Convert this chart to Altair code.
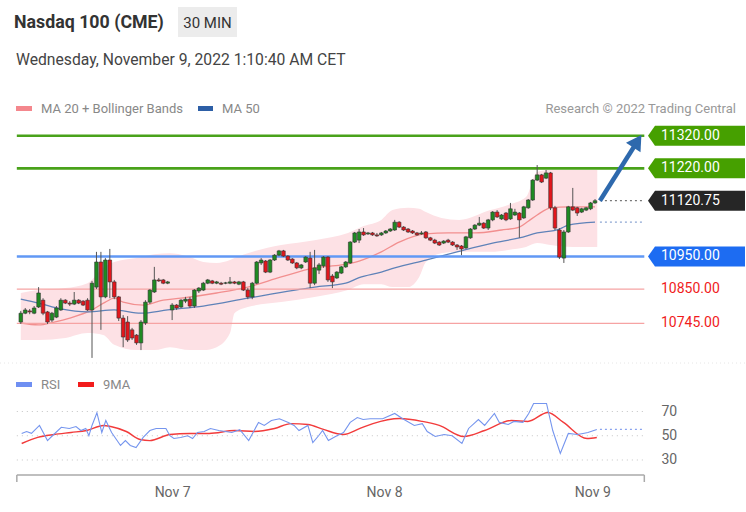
import altair as alt
import pandas as pd

TITLE = "Nasdaq 100 (CME)"
INTERVAL = "30 MIN"
DATE_TEXT = "Wednesday, November 9, 2022 1:10:40 AM CET"
LEGEND_MA20 = "MA 20 + Bollinger Bands"
LEGEND_MA50 = "MA 50"
CREDIT = "Research \u00a9 2022 Trading Central"
LEGEND_RSI = "RSI"
LEGEND_MA9 = "9MA"

# ---------------- 30-minute candles (index 0 = first bar shown) ----------------
OPEN = [
    10749, 10776, 10783, 10776, 10795, 10816, 10780, 10755, 10764, 10786,
    10816, 10807, 10804, 10816, 10813, 10816, 10786, 10856, 10933, 10826,
    10939, 10872, 10826, 10761, 10749, 10725, 10709, 10685, 10746, 10810,
    10841, 10878, 10878, 10868,
    10786, 10801, 10795, 10813, 10819, 10798, 10844, 10847, 10868, 10875,
    10868, 10868, 10868, 10868, 10872, 10865, 10872, 10847, 10826, 10868,
    10930, 10936, 10902, 10939, 10954, 10967, 10951, 10942, 10930, 10915,
    10933, 10945, 10868, 10908, 10921, 10948, 10890, 10884, 10899, 10918,
    10930, 10994, 11000, 11025, 11019, 11022, 11016, 11016,
    11022, 11028, 11031, 11055, 11040, 11034, 11028, 11022, 11019, 11025,
    11007, 11000, 10994, 10991, 11000, 10994, 10985, 10982, 10976, 11007,
    11034, 11046, 11052, 11037, 11062, 11086, 11065, 11083, 11065, 11077,
    11083, 11068, 11099, 11123, 11184, 11200, 11190, 11206, 11099, 11031,
    10945, 11025, 11102, 11099, 11086, 11092, 11096, 11114,
]
HIGH = [
    10783, 10792, 10789, 10798, 10856, 10822, 10783, 10780, 10798, 10822,
    10819, 10813, 10841, 10819, 10816, 10822, 10875, 10964, 10964, 10945,
    10973, 10878, 10829, 10770, 10767, 10731, 10712, 10755, 10816, 10850,
    10918, 10884, 10881, 10875,
    10807, 10804, 10819, 10826, 10826, 10850, 10856, 10872, 10881, 10878,
    10875, 10872, 10872, 10887, 10875, 10875, 10875, 10853, 10872, 10936,
    10945, 10939, 10942, 10957, 10970, 10970, 10954, 10945, 10933, 10927,
    10951, 10964, 10970, 10930, 10951, 10951, 10896, 10905, 10921, 10936,
    10997, 11025, 11034, 11037, 11025, 11025, 11022, 11025,
    11031, 11037, 11062, 11058, 11043, 11037, 11031, 11025, 11028, 11028,
    11010, 11004, 10997, 11000, 11004, 10997, 10988, 10985, 11013, 11037,
    11049, 11071, 11055, 11065, 11089, 11092, 11080, 11086, 11114, 11096,
    11086, 11105, 11126, 11187, 11230, 11203, 11215, 11209, 11105, 11037,
    11031, 11105, 11160, 11102, 11099, 11102, 11117, 11126,
]
LOW = [
    10743, 10773, 10773, 10773, 10792, 10770, 10743, 10749, 10761, 10783,
    10804, 10798, 10801, 10804, 10798, 10783, 10639, 10850, 10725, 10822,
    10822, 10819, 10752, 10672, 10688, 10694, 10679, 10663, 10740, 10804,
    10838, 10872, 10865, 10865,
    10755, 10786, 10792, 10807, 10792, 10792, 10838, 10844, 10865, 10865,
    10865, 10862, 10865, 10865, 10865, 10862, 10844, 10819, 10819, 10865,
    10924, 10899, 10899, 10936, 10951, 10948, 10936, 10927, 10911, 10911,
    10930, 10853, 10862, 10896, 10915, 10872, 10853, 10881, 10896, 10915,
    10927, 10991, 10991, 11013, 11016, 11013, 11010, 11013,
    11019, 11025, 11028, 11037, 11028, 11022, 11019, 11013, 11016, 11004,
    10997, 10988, 10982, 10988, 10991, 10982, 10970, 10954, 10973, 11004,
    11031, 11043, 11034, 11031, 11058, 11068, 11062, 11058, 11062, 11074,
    11007, 11065, 11096, 11120, 11181, 11175, 11187, 11092, 11031, 10942,
    10930, 11022, 11089, 11074, 11083, 11089, 11092, 11111,
]
CLOSE = [
    10776, 10786, 10780, 10792, 10838, 10776, 10749, 10776, 10792, 10816,
    10807, 10804, 10816, 10807, 10801, 10786, 10868, 10933, 10826, 10939,
    10872, 10826, 10761, 10703, 10694, 10700, 10685, 10749, 10810, 10847,
    10878, 10875, 10868, 10872,
    10801, 10792, 10816, 10819, 10798, 10847, 10853, 10868, 10878, 10868,
    10872, 10865, 10869, 10872, 10868, 10872, 10847, 10826, 10868, 10933,
    10939, 10902, 10939, 10954, 10967, 10951, 10939, 10930, 10915, 10924,
    10948, 10868, 10915, 10924, 10948, 10878, 10872, 10902, 10918, 10933,
    10994, 11022, 11025, 11016, 11022, 11016, 11013, 11022,
    11028, 11034, 11055, 11040, 11031, 11025, 11022, 11016, 11022, 11007,
    11000, 10991, 10985, 10997, 10994, 10985, 10979, 10973, 11010, 11034,
    11046, 11052, 11037, 11062, 11086, 11071, 11077, 11062, 11096, 11086,
    11062, 11102, 11123, 11184, 11200, 11178, 11206, 11099, 11037, 10948,
    11025, 11102, 11092, 11083, 11096, 11099, 11114, 11120.75,
]

DAY_TICKS = [34, 81.6, 128.4]
DAY_LABELS = ["Nov 7", "Nov 8", "Nov 9"]

# ---------------- indicators ----------------
MA20_X = [0, 4, 7.5, 11, 16, 19, 21, 23, 27.5, 32, 36, 44, 51, 58.5, 66, 72, 76, 81,
          85, 91, 96, 102, 108, 112, 114, 116, 119, 123, 129]
MA20_V = [10746, 10740, 10749, 10761, 10786, 10810, 10822, 10810, 10801, 10816, 10822,
          10838, 10856, 10887, 10915, 10924, 10936, 10964, 10994, 11019, 11022, 11022,
          11031, 11040, 11058, 11077, 11099, 11102, 11102]

MA50_X = [0, 4, 9, 15, 21, 27, 33, 41, 51, 66, 73, 76, 81, 84, 91, 98, 106, 112, 116,
          121, 123, 129]
MA50_V = [10819, 10807, 10789, 10780, 10786, 10776, 10786, 10798, 10822, 10856, 10868,
          10885, 10902, 10915, 10939, 10964, 10991, 11007, 11022, 11034, 11046, 11055]

BB_X = [0, 4, 10, 15, 18.5, 21, 26, 30, 33.5, 38, 41, 44, 47, 48, 51, 58.5, 66, 73.5,
        77, 81, 83.5, 87, 89.5, 91, 94.5, 98.5, 105.5, 109.5, 113.5, 116, 119, 124, 129.5]
BB_UP = [10838, 10847, 10853, 10868, 10915, 10933, 10945, 10957, 10960, 10948, 10933,
         10930, 10939, 10945, 10960, 10985, 11000, 11022, 11043, 11062, 11092, 11099,
         11096, 11086, 11068, 11062, 11092, 11108, 11132, 11209, 11215, 11215, 11215]
BB_LO = [10694, 10694, 10700, 10715, 10709, 10679, 10663, 10663, 10672, 10663, 10663,
         10672, 10715, 10776, 10795, 10810, 10826, 10847, 10865, 10865, 10856, 10856,
         10887, 10933, 10960, 10964, 10964, 10970, 10979, 10991, 10985, 10979, 10979]

RSI_X = [0.2, 1.3, 2.4, 4.2, 6.0, 7.1, 9.1, 10.9, 12.4, 13.5, 14.6, 15.3, 16.0, 17.1,
         18.2, 19.1, 20.4, 22.4, 23.5, 24.6, 25.9, 27.5, 29.0, 30.4, 32.6, 33.5, 34.4,
         35.9, 37.5, 38.6, 39.7, 41.2, 42.6, 44.5, 47.4, 49.2, 51.2, 53.4, 54.7, 56.3,
         58.1, 60.1, 61.4, 62.5, 64.5, 65.6, 66.9, 67.8, 69.1, 70.7, 72.5, 74.0, 75.6,
         76.9, 78.5, 81.3, 84.0, 85.8, 88.4, 90.2, 91.3, 93.1, 95.1, 96.9, 99.1, 100.6,
         102.8, 104.2, 106.4, 107.5, 109.5, 110.8, 112.8, 114.1, 115.2, 116.8, 118.1,
         119.5, 121.2, 123.0, 125.0, 126.3, 127.4, 129.4]
RSI_V = [51.9, 53.5, 52.0, 58.5, 46.0, 50.0, 57.0, 56.0, 57.6, 54.3, 56.0, 50.0, 58.5,
         69.0, 52.7, 62.6, 52.7, 42.0, 46.0, 42.0, 40.3, 48.6, 54.3, 56.0, 56.0, 50.0,
         47.7, 48.6, 50.0, 47.7, 52.7, 53.5, 56.0, 54.3, 52.7, 55.0, 46.0, 61.0, 58.5,
         62.6, 64.0, 61.0, 58.5, 54.3, 58.5, 44.4, 50.0, 54.3, 46.0, 49.4, 52.7, 61.0,
         65.0, 63.4, 64.0, 64.0, 68.4, 64.0, 58.5, 60.0, 53.5, 49.4, 51.0, 50.0, 43.6,
         56.0, 63.4, 58.5, 68.4, 61.0, 59.3, 61.8, 61.0, 68.4, 76.6, 76.6, 76.6, 54.3,
         35.4, 51.9, 51.0, 51.9, 52.7, 55.2]

MA9_X = [0.2, 3.8, 7.5, 11.3, 14.8, 18.6, 20.2, 23.7, 26.8, 29.0, 33.5, 37.9, 42.3,
         48.1, 52.5, 57.0, 60.7, 64.5, 68.0, 72.5, 76.2, 79.1, 85.1, 90.2, 94.0, 99.5,
         104.2, 110.2, 113.9, 118.4, 121.9, 127.2, 129.4]
MA9_V = [43.6, 48.6, 51.0, 52.7, 54.3, 58.5, 57.6, 53.5, 46.9, 46.0, 51.0, 51.9, 51.9,
         54.3, 53.5, 56.0, 60.0, 59.3, 55.2, 51.0, 56.0, 60.0, 64.2, 61.8, 58.5, 49.4,
         54.3, 62.6, 61.8, 69.2, 61.0, 47.7, 48.6]

RSI_LEVELS = [30, 50, 70]

# key levels
RES_LEVELS = [11320, 11220]
SUP_LEVEL = 10950
SUP2_LEVELS = [10850, 10745]
LAST_PRICE = 11120.75
MA50_LAST = 11055
RSI_LAST = 55.2

# forecast arrow
ARROW_I = [130.1, 138.0]
ARROW_P = [11120.75, 11291.5]
ARROW_HEAD_I = [138.5]
ARROW_HEAD_P = [11303]

# ---------------- layout / scales ----------------
W, H = 746, 512
FONT = "Roboto"
X_DOM = [-3.546, 161.79]
P_DOM = [10166.8, 11735.9]
R_DOM = [-12.9, 409.4]
X_LEFT, X_RIGHT = -0.89, 140.07
EXT_LEFT = 130.1

xs = alt.Scale(domain=X_DOM, nice=False, zero=False)
ps = alt.Scale(domain=P_DOM, nice=False, zero=False)
rs = alt.Scale(domain=R_DOM, nice=False, zero=False)

label_expr = ("datum.value < 50 ? '%s' : datum.value < 100 ? '%s' : '%s'"
              % tuple(DAY_LABELS))
X_AXIS = alt.Axis(
    orient="bottom", offset=-37, values=DAY_TICKS, labelExpr=label_expr,
    domain=False, ticks=False, grid=False, labelColor="#666666", labelFontSize=14,
    labelFont=FONT, labelPadding=10, title=None)


def X(f="i"):
    return alt.X(f"{f}:Q", scale=xs, axis=X_AXIS)


def P(f):
    return alt.Y(f"{f}:Q", scale=ps, axis=None)


def R(f):
    return alt.Y(f"{f}:Q", scale=rs, axis=None)


cdf = pd.DataFrame({"i": list(range(len(OPEN))), "open": OPEN, "high": HIGH,
                    "low": LOW, "close": CLOSE})
cdf["dir"] = ["up" if c >= o else "down" for o, c in zip(OPEN, CLOSE)]

layers = []

# Bollinger band + moving averages
bb = pd.DataFrame({"i": BB_X, "up": BB_UP, "lo": BB_LO})
layers.append(alt.Chart(bb).mark_area(color="#fde1e5", interpolate="monotone").encode(
    x=X(), y=P("up"), y2="lo:Q"))
layers.append(alt.Chart(pd.DataFrame({"i": MA20_X, "v": MA20_V})).mark_line(
    color="#f28f8f", strokeWidth=1.3, interpolate="monotone").encode(x=X(), y=P("v")))
layers.append(alt.Chart(pd.DataFrame({"i": MA50_X, "v": MA50_V})).mark_line(
    color="#5f82b8", strokeWidth=1.3, interpolate="monotone").encode(x=X(), y=P("v")))


def level_rules(levels, color, width):
    d = pd.DataFrame({"p": levels, "x0": X_LEFT, "x1": X_RIGHT})
    return alt.Chart(d).mark_rule(color=color, strokeWidth=width).encode(
        x=X("x0"), x2="x1:Q", y=P("p"))


layers.append(level_rules(SUP2_LEVELS, "#f6a3a3", 1.3))
layers.append(level_rules([SUP_LEVEL], "#6198f5", 2.6))
layers.append(level_rules(RES_LEVELS, "#49a21a", 2.6))

# candles
layers.append(alt.Chart(cdf).mark_rule(color="#555555", strokeWidth=1).encode(
    x=X(), y=P("low"), y2="high:Q"))
layers.append(alt.Chart(cdf).mark_bar(size=3.6, stroke="#333333", strokeWidth=0.6).encode(
    x=X(), y=P("open"), y2="close:Q",
    color=alt.Color("dir:N", scale=alt.Scale(domain=["up", "down"],
                                             range=["#1f8a22", "#e3161c"]), legend=None)))

# dotted extensions
ext = pd.DataFrame({"p": [LAST_PRICE], "x0": EXT_LEFT, "x1": X_RIGHT})
layers.append(alt.Chart(ext).mark_rule(color="#777777", strokeWidth=1.3,
                                       strokeDash=[2, 3]).encode(x=X("x0"), x2="x1:Q", y=P("p")))
ext2 = pd.DataFrame({"p": [MA50_LAST], "x0": EXT_LEFT, "x1": X_RIGHT})
layers.append(alt.Chart(ext2).mark_rule(color="#8ea7d3", strokeWidth=1.3,
                                        strokeDash=[2, 3]).encode(x=X("x0"), x2="x1:Q", y=P("p")))

# arrow
layers.append(alt.Chart(pd.DataFrame({"i": ARROW_I, "p": ARROW_P})).mark_line(
    color="#2e69ad", strokeWidth=4.5).encode(x=X(), y=P("p")))
layers.append(alt.Chart(pd.DataFrame({"i": ARROW_HEAD_I, "p": ARROW_HEAD_P})).mark_point(
    shape="triangle-up", angle=33, size=300, filled=True, opacity=1, color="#2e69ad").encode(
    x=X(), y=P("p")))

# price label boxes
BOX_PATH = "M -1 0 L -0.856 -0.206 L 1 -0.206 L 1 0.206 L -0.856 0.206 Z"
boxes = pd.DataFrame({
    "p": RES_LEVELS + [LAST_PRICE, SUP_LEVEL],
    "fill": ["#46a000", "#46a000", "#262626", "#1d6cf2"],
    "t": [f"{v:.2f}" for v in RES_LEVELS + [LAST_PRICE, SUP_LEVEL]],
})
layers.append(alt.Chart(boxes).mark_point(shape=BOX_PATH, size=9409, filled=True,
                                          opacity=1, strokeWidth=0).encode(
    x=alt.value(696.5), y=P("p"), color=alt.Color("fill:N", scale=None)))
layers.append(alt.Chart(boxes).mark_text(align="left", baseline="middle", font=FONT,
                                         fontSize=14, color="white").encode(
    x=alt.value(661), y=P("p"), text="t:N"))
red_lab = pd.DataFrame({"p": SUP2_LEVELS, "t": [f"{v:.2f}" for v in SUP2_LEVELS]})
layers.append(alt.Chart(red_lab).mark_text(align="left", baseline="middle", font=FONT,
                                           fontSize=14, color="#f01c1c").encode(
    x=alt.value(661), y=P("p"), text="t:N"))

# ---------------- RSI panel ----------------
grid = pd.DataFrame({"v": RSI_LEVELS, "x0": X_LEFT, "x1": X_RIGHT})
layers.append(alt.Chart(grid).mark_rule(color="#c4c4c4", strokeWidth=1,
                                        strokeDash=[1, 4]).encode(x=X("x0"), x2="x1:Q", y=R("v")))
rsi_ext = pd.DataFrame({"v": [RSI_LAST], "x0": EXT_LEFT, "x1": X_RIGHT - 0.3})
layers.append(alt.Chart(rsi_ext).mark_rule(color="#8aa3ef", strokeWidth=1.2,
                                           strokeDash=[2, 3]).encode(x=X("x0"), x2="x1:Q", y=R("v")))
layers.append(alt.Chart(pd.DataFrame({"i": MA9_X, "v": MA9_V})).mark_line(
    color="#f23b3b", strokeWidth=1.4, interpolate="monotone").encode(x=X(), y=R("v")))
layers.append(alt.Chart(pd.DataFrame({"i": RSI_X, "v": RSI_V})).mark_line(
    color="#7595ee", strokeWidth=1.1).encode(
    x=X(),
    y=alt.Y("v:Q", scale=rs, axis=alt.Axis(
        orient="right", offset=-90, values=RSI_LEVELS, domain=False, ticks=False,
        grid=False, labelColor="#666666", labelFontSize=14, labelFont=FONT,
        labelPadding=5, title=None))))

# x-axis bracket
br = pd.DataFrame({"x0": [X_LEFT], "x1": [X_RIGHT]})
layers.append(alt.Chart(br).mark_rule(color="#aaaaaa", strokeWidth=1.5).encode(
    x=X("x0"), x2="x1:Q", y=alt.value(475)))
brv = pd.DataFrame({"i": [X_LEFT, X_RIGHT]})
layers.append(alt.Chart(brv).mark_rule(color="#aaaaaa", strokeWidth=1.5).encode(
    x=X(), y=alt.value(475), y2=alt.value(482)))

# separator under the price panel
layers.append(alt.Chart(pd.DataFrame({"k": [0]})).mark_rule(
    color="#e6e6e6", strokeWidth=1, strokeDash=[1, 3]).encode(
    x=alt.value(0), x2=alt.value(746), y=alt.value(363)))


# ---------------- header and legends ----------------
def txt(s, x, y, size=13, color="#888888", weight="normal", align="left"):
    return alt.Chart(pd.DataFrame({"t": [s]})).mark_text(
        align=align, baseline="middle", font=FONT, fontSize=size, fontWeight=weight,
        color=color).encode(x=alt.value(x), y=alt.value(y), text="t:N")


def box(x0, x1, y0, y1, color):
    return alt.Chart(pd.DataFrame({"k": [0]})).mark_rect(color=color).encode(
        x=alt.value(x0), x2=alt.value(x1), y=alt.value(y0), y2=alt.value(y1))


layers += [
    txt(TITLE, 14, 23, size=17.8, color="#333333", weight="bold"),
    box(178, 237, 7, 37, "#ececec"),
    txt(INTERVAL, 207.5, 22.5, size=15, color="#333333", align="center"),
    txt(DATE_TEXT, 16, 60, size=15.7, color="#444444"),
    box(16, 32, 106, 111, "#f4878d"),
    txt(LEGEND_MA20, 41, 108.5),
    box(198, 213, 106, 111, "#2d5fa6"),
    txt(LEGEND_MA50, 222, 108.5),
    txt(CREDIT, 736, 108.5, color="#999999", align="right"),
    box(16, 32, 382, 387, "#6f8ff2"),
    txt(LEGEND_RSI, 41, 384.5),
    box(78, 94, 382, 387, "#f21c1c"),
    txt(LEGEND_MA9, 103, 384.5),
]

chart = alt.layer(*layers).resolve_scale(y="independent").properties(
    width=W, height=H, autosize=alt.AutoSizeParams(type="none"), padding=0,
    background="white").configure_view(strokeWidth=0)

chart.save("out.html", embed_options={"renderer": "svg", "actions": False})
